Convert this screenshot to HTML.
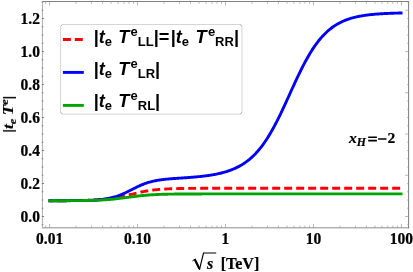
<!DOCTYPE html>
<html><head><meta charset="utf-8"><title>plot</title>
<style>
html,body{margin:0;padding:0;background:#fff;}
body{width:413px;height:272px;overflow:hidden;font-family:"Liberation Serif",serif;}
svg{display:block;}
text{font-family:"Liberation Serif",serif;stroke:#000;stroke-width:0.22px;}
text.lg{font-family:"Liberation Sans",sans-serif;white-space:pre;stroke:none;}
</style></head>
<body>
<svg width="413" height="272" viewBox="0 0 413 272">
<rect x="0" y="0" width="413" height="272" fill="#fff"/>
<g fill="none" stroke-linejoin="round" stroke-linecap="butt">
<path d="M48.5,200.73 L49.5,200.73 L50.5,200.73 L51.5,200.73 L52.5,200.72 L53.5,200.72 L54.5,200.72 L55.5,200.72 L56.5,200.71 L57.5,200.71 L58.5,200.71 L59.5,200.70 L60.5,200.70 L61.5,200.70 L62.5,200.69 L63.5,200.69 L64.5,200.68 L65.5,200.68 L66.5,200.67 L67.5,200.66 L68.5,200.66 L69.5,200.65 L70.5,200.64 L71.5,200.63 L72.5,200.62 L73.5,200.61 L74.5,200.60 L75.5,200.59 L76.5,200.58 L77.5,200.56 L78.5,200.55 L79.5,200.53 L80.5,200.51 L81.5,200.49 L82.5,200.47 L83.5,200.45 L84.5,200.43 L85.5,200.40 L86.5,200.38 L87.5,200.35 L88.5,200.31 L89.5,200.28 L90.5,200.24 L91.5,200.20 L92.5,200.16 L93.5,200.11 L94.5,200.06 L95.5,200.01 L96.5,199.95 L97.5,199.89 L98.5,199.83 L99.5,199.76 L100.5,199.69 L101.5,199.61 L102.5,199.52 L103.5,199.43 L104.5,199.33 L105.5,199.23 L106.5,199.12 L107.5,199.01 L108.5,198.89 L109.5,198.76 L110.5,198.62 L111.5,198.48 L112.5,198.33 L113.5,198.17 L114.5,198.01 L115.5,197.84 L116.5,197.66 L117.5,197.47 L118.5,197.28 L119.5,197.08 L120.5,196.87 L121.5,196.65 L122.5,196.43 L123.5,196.21 L124.5,195.98 L125.5,195.75 L126.5,195.51 L127.5,195.27 L128.5,195.02 L129.5,194.78 L130.5,194.53 L131.5,194.29 L132.5,194.04 L133.5,193.80 L134.5,193.56 L135.5,193.32 L136.5,193.08 L137.5,192.85 L138.5,192.63 L139.5,192.41 L140.5,192.19 L141.5,191.98 L142.5,191.78 L143.5,191.59 L144.5,191.40 L145.5,191.22 L146.5,191.04 L147.5,190.88 L148.5,190.72 L149.5,190.57 L150.5,190.42 L151.5,190.29 L152.5,190.16 L153.5,190.03 L154.5,189.92 L155.5,189.81 L156.5,189.71 L157.5,189.61 L158.5,189.52 L159.5,189.43 L160.5,189.35 L161.5,189.28 L162.5,189.21 L163.5,189.14 L164.5,189.08 L165.5,189.02 L166.5,188.97 L167.5,188.92 L168.5,188.87 L169.5,188.83 L170.5,188.79 L171.5,188.75 L172.5,188.72 L173.5,188.69 L174.5,188.65 L175.5,188.63 L176.5,188.60 L177.5,188.58 L178.5,188.55 L179.5,188.53 L180.5,188.51 L181.5,188.50 L182.5,188.48 L183.5,188.47 L184.5,188.45 L185.5,188.44 L186.5,188.43 L187.5,188.41 L188.5,188.40 L189.5,188.39 L190.5,188.39 L191.5,188.38 L192.5,188.37 L193.5,188.36 L194.5,188.36 L195.5,188.35 L196.5,188.34 L197.5,188.34 L198.5,188.33 L199.5,188.33 L200.5,188.33 L201.5,188.32 L202.5,188.32 L203.5,188.32 L204.5,188.31 L205.5,188.31 L206.5,188.31 L207.5,188.30 L208.5,188.30 L209.5,188.30 L210.5,188.30 L211.5,188.30 L212.5,188.30 L213.5,188.29 L214.5,188.29 L215.5,188.29 L216.5,188.29 L217.5,188.29 L218.5,188.29 L219.5,188.29 L220.5,188.29 L221.5,188.29 L222.5,188.28 L223.5,188.28 L224.5,188.28 L225.5,188.28 L226.5,188.28 L227.5,188.28 L228.5,188.28 L229.5,188.28 L230.5,188.28 L231.5,188.28 L232.5,188.28 L233.5,188.28 L234.5,188.28 L235.5,188.28 L236.5,188.28 L237.5,188.28 L238.5,188.28 L239.5,188.28 L240.5,188.28 L241.5,188.28 L242.5,188.28 L243.5,188.28 L244.5,188.28 L245.5,188.28 L246.5,188.28 L247.5,188.28 L248.5,188.28 L249.5,188.28 L250.5,188.28 L251.5,188.28 L252.5,188.28 L253.5,188.28 L254.5,188.28 L255.5,188.28 L256.5,188.28 L257.5,188.28 L258.5,188.28 L259.5,188.28 L260.5,188.28 L261.5,188.28 L262.5,188.28 L263.5,188.28 L264.5,188.28 L265.5,188.28 L266.5,188.28 L267.5,188.28 L268.5,188.28 L269.5,188.28 L270.5,188.28 L271.5,188.28 L272.5,188.28 L273.5,188.28 L274.5,188.28 L275.5,188.28 L276.5,188.28 L277.5,188.28 L278.5,188.28 L279.5,188.28 L280.5,188.28 L281.5,188.28 L282.5,188.28 L283.5,188.28 L284.5,188.28 L285.5,188.28 L286.5,188.28 L287.5,188.28 L288.5,188.28 L289.5,188.28 L290.5,188.28 L291.5,188.28 L292.5,188.28 L293.5,188.28 L294.5,188.28 L295.5,188.28 L296.5,188.28 L297.5,188.28 L298.5,188.28 L299.5,188.28 L300.5,188.28 L301.5,188.28 L302.5,188.28 L303.5,188.28 L304.5,188.28 L305.5,188.28 L306.5,188.28 L307.5,188.28 L308.5,188.28 L309.5,188.28 L310.5,188.28 L311.5,188.28 L312.5,188.28 L313.5,188.28 L314.5,188.28 L315.5,188.28 L316.5,188.28 L317.5,188.28 L318.5,188.28 L319.5,188.28 L320.5,188.28 L321.5,188.28 L322.5,188.28 L323.5,188.28 L324.5,188.28 L325.5,188.28 L326.5,188.28 L327.5,188.28 L328.5,188.28 L329.5,188.28 L330.5,188.28 L331.5,188.28 L332.5,188.28 L333.5,188.28 L334.5,188.28 L335.5,188.28 L336.5,188.28 L337.5,188.28 L338.5,188.28 L339.5,188.28 L340.5,188.28 L341.5,188.28 L342.5,188.28 L343.5,188.28 L344.5,188.28 L345.5,188.28 L346.5,188.28 L347.5,188.28 L348.5,188.28 L349.5,188.28 L350.5,188.28 L351.5,188.28 L352.5,188.28 L353.5,188.28 L354.5,188.28 L355.5,188.28 L356.5,188.28 L357.5,188.28 L358.5,188.28 L359.5,188.28 L360.5,188.28 L361.5,188.28 L362.5,188.28 L363.5,188.28 L364.5,188.28 L365.5,188.28 L366.5,188.28 L367.5,188.28 L368.5,188.28 L369.5,188.28 L370.5,188.28 L371.5,188.28 L372.5,188.28 L373.5,188.28 L374.5,188.28 L375.5,188.28 L376.5,188.28 L377.5,188.28 L378.5,188.28 L379.5,188.28 L380.5,188.28 L381.5,188.28 L382.5,188.28 L383.5,188.28 L384.5,188.28 L385.5,188.28 L386.5,188.28 L387.5,188.28 L388.5,188.28 L389.5,188.28 L390.5,188.28 L391.5,188.28 L392.5,188.28 L393.5,188.28 L394.5,188.28 L395.5,188.28 L396.5,188.28 L397.5,188.28 L398.5,188.28 L399.5,188.28 L400.5,188.28 L401.5,188.28 L402.5,188.28" stroke="#f00" stroke-width="2.9" stroke-dasharray="8 4" stroke-dashoffset="3.3"/>
<path d="M48.5,200.73 L49.5,200.73 L50.5,200.72 L51.5,200.72 L52.5,200.72 L53.5,200.72 L54.5,200.72 L55.5,200.71 L56.5,200.71 L57.5,200.71 L58.5,200.71 L59.5,200.70 L60.5,200.70 L61.5,200.70 L62.5,200.69 L63.5,200.69 L64.5,200.69 L65.5,200.68 L66.5,200.68 L67.5,200.67 L68.5,200.66 L69.5,200.66 L70.5,200.65 L71.5,200.64 L72.5,200.63 L73.5,200.62 L74.5,200.61 L75.5,200.60 L76.5,200.59 L77.5,200.58 L78.5,200.56 L79.5,200.54 L80.5,200.53 L81.5,200.51 L82.5,200.49 L83.5,200.46 L84.5,200.44 L85.5,200.41 L86.5,200.38 L87.5,200.35 L88.5,200.31 L89.5,200.28 L90.5,200.23 L91.5,200.19 L92.5,200.14 L93.5,200.08 L94.5,200.02 L95.5,199.96 L96.5,199.89 L97.5,199.81 L98.5,199.73 L99.5,199.64 L100.5,199.54 L101.5,199.43 L102.5,199.32 L103.5,199.19 L104.5,199.06 L105.5,198.91 L106.5,198.75 L107.5,198.58 L108.5,198.39 L109.5,198.19 L110.5,197.98 L111.5,197.75 L112.5,197.51 L113.5,197.25 L114.5,196.97 L115.5,196.67 L116.5,196.36 L117.5,196.02 L118.5,195.67 L119.5,195.30 L120.5,194.92 L121.5,194.51 L122.5,194.09 L123.5,193.65 L124.5,193.20 L125.5,192.74 L126.5,192.26 L127.5,191.77 L128.5,191.27 L129.5,190.77 L130.5,190.26 L131.5,189.75 L132.5,189.24 L133.5,188.73 L134.5,188.22 L135.5,187.73 L136.5,187.23 L137.5,186.75 L138.5,186.28 L139.5,185.82 L140.5,185.38 L141.5,184.95 L142.5,184.54 L143.5,184.14 L144.5,183.76 L145.5,183.40 L146.5,183.06 L147.5,182.73 L148.5,182.43 L149.5,182.13 L150.5,181.86 L151.5,181.60 L152.5,181.36 L153.5,181.13 L154.5,180.91 L155.5,180.71 L156.5,180.52 L157.5,180.35 L158.5,180.18 L159.5,180.03 L160.5,179.88 L161.5,179.74 L162.5,179.61 L163.5,179.49 L164.5,179.38 L165.5,179.27 L166.5,179.17 L167.5,179.07 L168.5,178.98 L169.5,178.89 L170.5,178.81 L171.5,178.73 L172.5,178.65 L173.5,178.57 L174.5,178.50 L175.5,178.43 L176.5,178.36 L177.5,178.29 L178.5,178.22 L179.5,178.15 L180.5,178.09 L181.5,178.02 L182.5,177.95 L183.5,177.88 L184.5,177.82 L185.5,177.75 L186.5,177.68 L187.5,177.60 L188.5,177.53 L189.5,177.46 L190.5,177.38 L191.5,177.30 L192.5,177.22 L193.5,177.14 L194.5,177.05 L195.5,176.97 L196.5,176.87 L197.5,176.78 L198.5,176.68 L199.5,176.58 L200.5,176.48 L201.5,176.37 L202.5,176.26 L203.5,176.14 L204.5,176.02 L205.5,175.89 L206.5,175.76 L207.5,175.62 L208.5,175.48 L209.5,175.33 L210.5,175.18 L211.5,175.02 L212.5,174.85 L213.5,174.67 L214.5,174.49 L215.5,174.30 L216.5,174.10 L217.5,173.89 L218.5,173.68 L219.5,173.45 L220.5,173.22 L221.5,172.97 L222.5,172.71 L223.5,172.45 L224.5,172.17 L225.5,171.88 L226.5,171.57 L227.5,171.25 L228.5,170.92 L229.5,170.57 L230.5,170.21 L231.5,169.83 L232.5,169.43 L233.5,169.02 L234.5,168.59 L235.5,168.14 L236.5,167.66 L237.5,167.17 L238.5,166.66 L239.5,166.12 L240.5,165.56 L241.5,164.98 L242.5,164.37 L243.5,163.73 L244.5,163.07 L245.5,162.37 L246.5,161.65 L247.5,160.90 L248.5,160.11 L249.5,159.30 L250.5,158.45 L251.5,157.56 L252.5,156.64 L253.5,155.68 L254.5,154.69 L255.5,153.66 L256.5,152.58 L257.5,151.47 L258.5,150.31 L259.5,149.12 L260.5,147.88 L261.5,146.59 L262.5,145.27 L263.5,143.90 L264.5,142.48 L265.5,141.02 L266.5,139.51 L267.5,137.96 L268.5,136.37 L269.5,134.73 L270.5,133.05 L271.5,131.32 L272.5,129.55 L273.5,127.74 L274.5,125.89 L275.5,124.00 L276.5,122.08 L277.5,120.11 L278.5,118.12 L279.5,116.09 L280.5,114.03 L281.5,111.95 L282.5,109.84 L283.5,107.70 L284.5,105.55 L285.5,103.38 L286.5,101.20 L287.5,99.01 L288.5,96.81 L289.5,94.61 L290.5,92.41 L291.5,90.20 L292.5,88.01 L293.5,85.82 L294.5,83.65 L295.5,81.48 L296.5,79.34 L297.5,77.22 L298.5,75.12 L299.5,73.05 L300.5,71.01 L301.5,68.99 L302.5,67.01 L303.5,65.07 L304.5,63.16 L305.5,61.29 L306.5,59.47 L307.5,57.68 L308.5,55.93 L309.5,54.23 L310.5,52.58 L311.5,50.97 L312.5,49.40 L313.5,47.88 L314.5,46.41 L315.5,44.98 L316.5,43.60 L317.5,42.26 L318.5,40.97 L319.5,39.73 L320.5,38.53 L321.5,37.37 L322.5,36.25 L323.5,35.18 L324.5,34.15 L325.5,33.16 L326.5,32.20 L327.5,31.29 L328.5,30.41 L329.5,29.57 L330.5,28.77 L331.5,28.00 L332.5,27.26 L333.5,26.56 L334.5,25.88 L335.5,25.24 L336.5,24.62 L337.5,24.03 L338.5,23.47 L339.5,22.94 L340.5,22.43 L341.5,21.94 L342.5,21.48 L343.5,21.03 L344.5,20.61 L345.5,20.21 L346.5,19.83 L347.5,19.47 L348.5,19.12 L349.5,18.79 L350.5,18.48 L351.5,18.18 L352.5,17.90 L353.5,17.63 L354.5,17.37 L355.5,17.13 L356.5,16.90 L357.5,16.68 L358.5,16.47 L359.5,16.27 L360.5,16.08 L361.5,15.90 L362.5,15.73 L363.5,15.57 L364.5,15.42 L365.5,15.27 L366.5,15.13 L367.5,15.00 L368.5,14.88 L369.5,14.76 L370.5,14.65 L371.5,14.54 L372.5,14.44 L373.5,14.35 L374.5,14.26 L375.5,14.17 L376.5,14.09 L377.5,14.01 L378.5,13.94 L379.5,13.87 L380.5,13.80 L381.5,13.74 L382.5,13.68 L383.5,13.62 L384.5,13.57 L385.5,13.52 L386.5,13.47 L387.5,13.43 L388.5,13.38 L389.5,13.34 L390.5,13.30 L391.5,13.26 L392.5,13.23 L393.5,13.20 L394.5,13.16 L395.5,13.14 L396.5,13.11 L397.5,13.08 L398.5,13.05 L399.5,13.03 L400.5,13.01 L401.5,12.99 L402.5,12.96" stroke="#0000f5" stroke-width="2.9"/>
<path d="M48.5,200.74 L49.5,200.74 L50.5,200.74 L51.5,200.73 L52.5,200.73 L53.5,200.73 L54.5,200.73 L55.5,200.73 L56.5,200.73 L57.5,200.72 L58.5,200.72 L59.5,200.72 L60.5,200.72 L61.5,200.71 L62.5,200.71 L63.5,200.71 L64.5,200.70 L65.5,200.70 L66.5,200.70 L67.5,200.69 L68.5,200.69 L69.5,200.68 L70.5,200.68 L71.5,200.67 L72.5,200.67 L73.5,200.66 L74.5,200.65 L75.5,200.64 L76.5,200.63 L77.5,200.63 L78.5,200.62 L79.5,200.60 L80.5,200.59 L81.5,200.58 L82.5,200.57 L83.5,200.55 L84.5,200.54 L85.5,200.52 L86.5,200.50 L87.5,200.48 L88.5,200.46 L89.5,200.44 L90.5,200.41 L91.5,200.39 L92.5,200.36 L93.5,200.33 L94.5,200.29 L95.5,200.26 L96.5,200.22 L97.5,200.18 L98.5,200.14 L99.5,200.09 L100.5,200.05 L101.5,199.99 L102.5,199.94 L103.5,199.88 L104.5,199.82 L105.5,199.75 L106.5,199.68 L107.5,199.61 L108.5,199.53 L109.5,199.45 L110.5,199.37 L111.5,199.28 L112.5,199.19 L113.5,199.09 L114.5,198.99 L115.5,198.88 L116.5,198.77 L117.5,198.66 L118.5,198.54 L119.5,198.42 L120.5,198.30 L121.5,198.17 L122.5,198.04 L123.5,197.91 L124.5,197.78 L125.5,197.65 L126.5,197.51 L127.5,197.38 L128.5,197.24 L129.5,197.11 L130.5,196.97 L131.5,196.84 L132.5,196.71 L133.5,196.58 L134.5,196.45 L135.5,196.32 L136.5,196.20 L137.5,196.08 L138.5,195.97 L139.5,195.85 L140.5,195.75 L141.5,195.64 L142.5,195.54 L143.5,195.44 L144.5,195.35 L145.5,195.26 L146.5,195.18 L147.5,195.10 L148.5,195.02 L149.5,194.95 L150.5,194.88 L151.5,194.82 L152.5,194.76 L153.5,194.70 L154.5,194.65 L155.5,194.60 L156.5,194.55 L157.5,194.50 L158.5,194.46 L159.5,194.42 L160.5,194.39 L161.5,194.35 L162.5,194.32 L163.5,194.29 L164.5,194.26 L165.5,194.24 L166.5,194.21 L167.5,194.19 L168.5,194.17 L169.5,194.15 L170.5,194.13 L171.5,194.12 L172.5,194.10 L173.5,194.09 L174.5,194.07 L175.5,194.06 L176.5,194.05 L177.5,194.04 L178.5,194.03 L179.5,194.02 L180.5,194.01 L181.5,194.00 L182.5,193.99 L183.5,193.99 L184.5,193.98 L185.5,193.98 L186.5,193.97 L187.5,193.97 L188.5,193.96 L189.5,193.96 L190.5,193.95 L191.5,193.95 L192.5,193.95 L193.5,193.94 L194.5,193.94 L195.5,193.94 L196.5,193.94 L197.5,193.93 L198.5,193.93 L199.5,193.93 L200.5,193.93 L201.5,193.93 L202.5,193.92 L203.5,193.92 L204.5,193.92 L205.5,193.92 L206.5,193.92 L207.5,193.92 L208.5,193.92 L209.5,193.92 L210.5,193.92 L211.5,193.91 L212.5,193.91 L213.5,193.91 L214.5,193.91 L215.5,193.91 L216.5,193.91 L217.5,193.91 L218.5,193.91 L219.5,193.91 L220.5,193.91 L221.5,193.91 L222.5,193.91 L223.5,193.91 L224.5,193.91 L225.5,193.91 L226.5,193.91 L227.5,193.91 L228.5,193.91 L229.5,193.91 L230.5,193.91 L231.5,193.91 L232.5,193.91 L233.5,193.91 L234.5,193.91 L235.5,193.91 L236.5,193.91 L237.5,193.91 L238.5,193.91 L239.5,193.91 L240.5,193.91 L241.5,193.91 L242.5,193.91 L243.5,193.91 L244.5,193.91 L245.5,193.91 L246.5,193.91 L247.5,193.91 L248.5,193.91 L249.5,193.91 L250.5,193.91 L251.5,193.91 L252.5,193.91 L253.5,193.91 L254.5,193.91 L255.5,193.91 L256.5,193.91 L257.5,193.91 L258.5,193.91 L259.5,193.91 L260.5,193.91 L261.5,193.91 L262.5,193.91 L263.5,193.91 L264.5,193.91 L265.5,193.91 L266.5,193.91 L267.5,193.91 L268.5,193.91 L269.5,193.91 L270.5,193.91 L271.5,193.91 L272.5,193.91 L273.5,193.91 L274.5,193.91 L275.5,193.91 L276.5,193.91 L277.5,193.91 L278.5,193.91 L279.5,193.91 L280.5,193.91 L281.5,193.91 L282.5,193.91 L283.5,193.91 L284.5,193.91 L285.5,193.91 L286.5,193.91 L287.5,193.91 L288.5,193.91 L289.5,193.91 L290.5,193.91 L291.5,193.91 L292.5,193.91 L293.5,193.91 L294.5,193.91 L295.5,193.91 L296.5,193.91 L297.5,193.91 L298.5,193.91 L299.5,193.91 L300.5,193.91 L301.5,193.91 L302.5,193.91 L303.5,193.91 L304.5,193.91 L305.5,193.91 L306.5,193.91 L307.5,193.91 L308.5,193.91 L309.5,193.91 L310.5,193.91 L311.5,193.91 L312.5,193.91 L313.5,193.91 L314.5,193.91 L315.5,193.91 L316.5,193.91 L317.5,193.91 L318.5,193.91 L319.5,193.91 L320.5,193.91 L321.5,193.91 L322.5,193.91 L323.5,193.91 L324.5,193.91 L325.5,193.91 L326.5,193.91 L327.5,193.91 L328.5,193.91 L329.5,193.91 L330.5,193.91 L331.5,193.91 L332.5,193.91 L333.5,193.91 L334.5,193.91 L335.5,193.91 L336.5,193.91 L337.5,193.91 L338.5,193.91 L339.5,193.91 L340.5,193.91 L341.5,193.91 L342.5,193.91 L343.5,193.91 L344.5,193.91 L345.5,193.91 L346.5,193.91 L347.5,193.91 L348.5,193.91 L349.5,193.91 L350.5,193.91 L351.5,193.91 L352.5,193.91 L353.5,193.91 L354.5,193.91 L355.5,193.91 L356.5,193.91 L357.5,193.91 L358.5,193.91 L359.5,193.91 L360.5,193.91 L361.5,193.91 L362.5,193.91 L363.5,193.91 L364.5,193.91 L365.5,193.91 L366.5,193.91 L367.5,193.91 L368.5,193.91 L369.5,193.91 L370.5,193.91 L371.5,193.91 L372.5,193.91 L373.5,193.91 L374.5,193.91 L375.5,193.91 L376.5,193.91 L377.5,193.91 L378.5,193.91 L379.5,193.91 L380.5,193.91 L381.5,193.91 L382.5,193.91 L383.5,193.91 L384.5,193.91 L385.5,193.91 L386.5,193.91 L387.5,193.91 L388.5,193.91 L389.5,193.91 L390.5,193.91 L391.5,193.91 L392.5,193.91 L393.5,193.91 L394.5,193.91 L395.5,193.91 L396.5,193.91 L397.5,193.91 L398.5,193.91 L399.5,193.91 L400.5,193.91 L401.5,193.91 L402.5,193.91" stroke="#00a300" stroke-width="2.9"/>
</g>
<g fill="none" stroke-width="1" stroke-linecap="square">
<path d="M42.4 1.5H408.6" stroke="#808080"/><path d="M42.4 227.8H408.6" stroke="#8e8e8e"/>
<path d="M42.4 1.5V227.8" stroke="#aeaeae"/><path d="M408.6 1.5V227.8" stroke="#7c7c7c"/>
</g>
<g stroke="#989898" stroke-width="0.7" fill="none">
<path d="M49.60 227.80L49.60 224.00"/>
<path d="M49.60 1.50L49.60 5.30"/>
<path d="M76.08 227.80L76.08 225.60"/>
<path d="M76.08 1.50L76.08 3.70"/>
<path d="M91.56 227.80L91.56 225.60"/>
<path d="M91.56 1.50L91.56 3.70"/>
<path d="M102.55 227.80L102.55 225.60"/>
<path d="M102.55 1.50L102.55 3.70"/>
<path d="M111.07 227.80L111.07 225.60"/>
<path d="M111.07 1.50L111.07 3.70"/>
<path d="M118.04 227.80L118.04 225.60"/>
<path d="M118.04 1.50L118.04 3.70"/>
<path d="M123.93 227.80L123.93 225.60"/>
<path d="M123.93 1.50L123.93 3.70"/>
<path d="M129.03 227.80L129.03 225.60"/>
<path d="M129.03 1.50L129.03 3.70"/>
<path d="M133.53 227.80L133.53 225.60"/>
<path d="M133.53 1.50L133.53 3.70"/>
<path d="M137.55 227.80L137.55 224.00"/>
<path d="M137.55 1.50L137.55 5.30"/>
<path d="M164.03 227.80L164.03 225.60"/>
<path d="M164.03 1.50L164.03 3.70"/>
<path d="M179.51 227.80L179.51 225.60"/>
<path d="M179.51 1.50L179.51 3.70"/>
<path d="M190.50 227.80L190.50 225.60"/>
<path d="M190.50 1.50L190.50 3.70"/>
<path d="M199.02 227.80L199.02 225.60"/>
<path d="M199.02 1.50L199.02 3.70"/>
<path d="M205.99 227.80L205.99 225.60"/>
<path d="M205.99 1.50L205.99 3.70"/>
<path d="M211.88 227.80L211.88 225.60"/>
<path d="M211.88 1.50L211.88 3.70"/>
<path d="M216.98 227.80L216.98 225.60"/>
<path d="M216.98 1.50L216.98 3.70"/>
<path d="M221.48 227.80L221.48 225.60"/>
<path d="M221.48 1.50L221.48 3.70"/>
<path d="M225.50 227.80L225.50 224.00"/>
<path d="M225.50 1.50L225.50 5.30"/>
<path d="M251.98 227.80L251.98 225.60"/>
<path d="M251.98 1.50L251.98 3.70"/>
<path d="M267.46 227.80L267.46 225.60"/>
<path d="M267.46 1.50L267.46 3.70"/>
<path d="M278.45 227.80L278.45 225.60"/>
<path d="M278.45 1.50L278.45 3.70"/>
<path d="M286.97 227.80L286.97 225.60"/>
<path d="M286.97 1.50L286.97 3.70"/>
<path d="M293.94 227.80L293.94 225.60"/>
<path d="M293.94 1.50L293.94 3.70"/>
<path d="M299.83 227.80L299.83 225.60"/>
<path d="M299.83 1.50L299.83 3.70"/>
<path d="M304.93 227.80L304.93 225.60"/>
<path d="M304.93 1.50L304.93 3.70"/>
<path d="M309.43 227.80L309.43 225.60"/>
<path d="M309.43 1.50L309.43 3.70"/>
<path d="M313.45 227.80L313.45 224.00"/>
<path d="M313.45 1.50L313.45 5.30"/>
<path d="M339.93 227.80L339.93 225.60"/>
<path d="M339.93 1.50L339.93 3.70"/>
<path d="M355.41 227.80L355.41 225.60"/>
<path d="M355.41 1.50L355.41 3.70"/>
<path d="M366.40 227.80L366.40 225.60"/>
<path d="M366.40 1.50L366.40 3.70"/>
<path d="M374.92 227.80L374.92 225.60"/>
<path d="M374.92 1.50L374.92 3.70"/>
<path d="M381.89 227.80L381.89 225.60"/>
<path d="M381.89 1.50L381.89 3.70"/>
<path d="M387.78 227.80L387.78 225.60"/>
<path d="M387.78 1.50L387.78 3.70"/>
<path d="M392.88 227.80L392.88 225.60"/>
<path d="M392.88 1.50L392.88 3.70"/>
<path d="M397.38 227.80L397.38 225.60"/>
<path d="M397.38 1.50L397.38 3.70"/>
<path d="M401.40 227.80L401.40 224.00"/>
<path d="M401.40 1.50L401.40 5.30"/>
<path d="M45.58 227.80L45.58 225.60"/>
<path d="M45.58 1.50L45.58 3.70"/>
<path d="M408.60 224.75L407.20 224.75"/>
<path d="M408.60 216.50L405.10 216.50"/>
<path d="M408.60 208.25L407.20 208.25"/>
<path d="M408.60 200.00L407.20 200.00"/>
<path d="M408.60 191.75L407.20 191.75"/>
<path d="M408.60 183.50L407.20 183.50"/>
<path d="M408.60 175.25L405.10 175.25"/>
<path d="M408.60 167.00L407.20 167.00"/>
<path d="M408.60 158.75L407.20 158.75"/>
<path d="M408.60 150.50L407.20 150.50"/>
<path d="M408.60 142.25L407.20 142.25"/>
<path d="M408.60 134.00L405.10 134.00"/>
<path d="M408.60 125.75L407.20 125.75"/>
<path d="M408.60 117.50L407.20 117.50"/>
<path d="M408.60 109.25L407.20 109.25"/>
<path d="M408.60 101.00L407.20 101.00"/>
<path d="M408.60 92.75L405.10 92.75"/>
<path d="M408.60 84.50L407.20 84.50"/>
<path d="M408.60 76.25L407.20 76.25"/>
<path d="M408.60 68.00L407.20 68.00"/>
<path d="M408.60 59.75L407.20 59.75"/>
<path d="M408.60 51.50L405.10 51.50"/>
<path d="M408.60 43.25L407.20 43.25"/>
<path d="M408.60 35.00L407.20 35.00"/>
<path d="M408.60 26.75L407.20 26.75"/>
<path d="M408.60 18.50L407.20 18.50"/>
<path d="M408.60 10.25L405.10 10.25"/>
<path d="M408.60 2.00L407.20 2.00"/>
</g>
<g stroke="#6a6a6a" stroke-width="0.8" fill="none">
<path d="M41.80 224.75L43.30 224.75"/>
<path d="M41.80 216.50L44.10 216.50"/>
<path d="M41.80 208.25L43.30 208.25"/>
<path d="M41.80 200.00L43.30 200.00"/>
<path d="M41.80 191.75L43.30 191.75"/>
<path d="M41.80 183.50L44.10 183.50"/>
<path d="M41.80 175.25L43.30 175.25"/>
<path d="M41.80 167.00L43.30 167.00"/>
<path d="M41.80 158.75L43.30 158.75"/>
<path d="M41.80 150.50L44.10 150.50"/>
<path d="M41.80 142.25L43.30 142.25"/>
<path d="M41.80 134.00L43.30 134.00"/>
<path d="M41.80 125.75L43.30 125.75"/>
<path d="M41.80 117.50L44.10 117.50"/>
<path d="M41.80 109.25L43.30 109.25"/>
<path d="M41.80 101.00L43.30 101.00"/>
<path d="M41.80 92.75L43.30 92.75"/>
<path d="M41.80 84.50L44.10 84.50"/>
<path d="M41.80 76.25L43.30 76.25"/>
<path d="M41.80 68.00L43.30 68.00"/>
<path d="M41.80 59.75L43.30 59.75"/>
<path d="M41.80 51.50L44.10 51.50"/>
<path d="M41.80 43.25L43.30 43.25"/>
<path d="M41.80 35.00L43.30 35.00"/>
<path d="M41.80 26.75L43.30 26.75"/>
<path d="M41.80 18.50L44.10 18.50"/>
<path d="M41.80 10.25L43.30 10.25"/>
<path d="M41.80 2.00L43.30 2.00"/>
</g>
<g style="filter:grayscale(1)">
<g font-weight="bold" font-size="15.3" fill="#000">
<text transform="translate(40 221.50) scale(1.015 1.075)" text-anchor="end">0.0</text><text transform="translate(40 188.50) scale(1.015 1.075)" text-anchor="end">0.2</text><text transform="translate(40 155.50) scale(1.015 1.075)" text-anchor="end">0.4</text><text transform="translate(40 122.50) scale(1.015 1.075)" text-anchor="end">0.6</text><text transform="translate(40 89.50) scale(1.015 1.075)" text-anchor="end">0.8</text><text transform="translate(40 56.50) scale(1.015 1.075)" text-anchor="end">1.0</text><text transform="translate(40 23.50) scale(1.015 1.075)" text-anchor="end">1.2</text>
<text transform="translate(49.60 243.8) scale(1.015 1.075)" text-anchor="middle">0.01</text><text transform="translate(137.55 243.8) scale(1.015 1.075)" text-anchor="middle">0.10</text><text transform="translate(225.50 243.8) scale(1.015 1.075)" text-anchor="middle">1</text><text transform="translate(313.45 243.8) scale(1.015 1.075)" text-anchor="middle">10</text><text transform="translate(401.40 243.8) scale(1.015 1.075)" text-anchor="middle">100</text>
</g>
</g>
<path d="M62.4 24.5H240.2L242.0 26.3V112.3L240.2 114.1H62.4L60.6 112.3V26.3Z" fill="#fff" stroke="#d0d0d0" stroke-width="0.9"/><path d="M60.6 26.3L62.4 24.5M240.2 24.5L242.0 26.3M242.0 112.3L240.2 114.1M62.4 114.1L60.6 112.3" fill="none" stroke="#a8a8a8" stroke-width="0.9"/><path d="M62.9 39.5H82.8" stroke="#f00" stroke-width="2.9" stroke-dasharray="8 3.9" fill="none"/><path d="M62.9 72.4H83.8" stroke="#00f" stroke-width="2.9" fill="none"/><path d="M62.9 105.4H83.8" stroke="#00a300" stroke-width="2.9" fill="none"/><g style="filter:grayscale(1)"><text x="93.7" y="42.5" class="lg" font-weight="bold" font-size="18.2" fill="#000">|<tspan font-style="italic">t</tspan><tspan font-size="13" dy="3.0">e</tspan><tspan dy="-3.0" dx="6.1" font-style="italic">T</tspan><tspan font-size="13" dy="-7" dx="1.2">e</tspan><tspan font-size="13" dy="10.0">LL</tspan><tspan dy="-3.0">|</tspan>=<tspan dx="1.3">|</tspan><tspan font-style="italic">t</tspan><tspan font-size="13" dy="3.0">e</tspan><tspan dy="-3.0" dx="6.5" font-style="italic">T</tspan><tspan font-size="13" dy="-7" dx="1.2">e</tspan><tspan font-size="13" dy="10.0">RR</tspan><tspan dy="-3.0">|</tspan></text><text x="93.7" y="75.3" class="lg" font-weight="bold" font-size="18.2" fill="#000">|<tspan font-style="italic">t</tspan><tspan font-size="13" dy="3.0">e</tspan><tspan dy="-3.0" dx="6.1" font-style="italic">T</tspan><tspan font-size="13" dy="-7" dx="1.2">e</tspan><tspan font-size="13" dy="10.0">LR</tspan><tspan dy="-3.0">|</tspan></text><text x="93.7" y="106.8" class="lg" font-weight="bold" font-size="18.2" fill="#000">|<tspan font-style="italic">t</tspan><tspan font-size="13" dy="3.0">e</tspan><tspan dy="-3.0" dx="6.1" font-style="italic">T</tspan><tspan font-size="13" dy="-7" dx="1.2">e</tspan><tspan font-size="13" dy="10.0">RL</tspan><tspan dy="-3.0">|</tspan></text></g>
<g style="filter:grayscale(1)">
<text x="349" y="143.3" font-weight="bold" font-size="15.5" fill="#000"><tspan font-style="italic">x</tspan><tspan font-style="italic" font-size="11.8" dy="2.5">H</tspan></text>
<path d="M368.2 136.4h8.7v1.55h-8.7zM368.2 139.85h8.7v1.55h-8.7zM378.1 138.15h8.4v1.55h-8.4z" fill="#000"/>
<text x="387.5" y="143.3" font-weight="bold" font-size="15.5" fill="#000">2</text>
<text transform="translate(13.3 114.2) rotate(-90) scale(1.22 1.02)" text-anchor="middle" font-weight="bold" font-size="14" fill="#000">|<tspan font-style="italic">t</tspan><tspan font-style="italic" font-size="10" dy="2.5">e</tspan><tspan dy="-2.5" dx="3" font-style="italic">T</tspan><tspan font-style="italic" font-size="10" dy="-5">e</tspan><tspan dy="5">|</tspan></text>
<g fill="#000" font-weight="bold" font-size="16">
<g fill="none" stroke="#000" stroke-linejoin="miter" stroke-linecap="butt"><path d="M192.5 260.9L194.9 259.3" stroke-width="1"/><path d="M194.6 259.0L199.4 268.8" stroke-width="2.2"/><path d="M199.4 269.8L203.5 253H216.2" stroke-width="1.15"/></g>
<text x="207.1" y="268.7" font-style="italic">s</text>
<text x="220.7" y="268.7">[TeV]</text>
</g>
</g>
</svg>
</body></html>
